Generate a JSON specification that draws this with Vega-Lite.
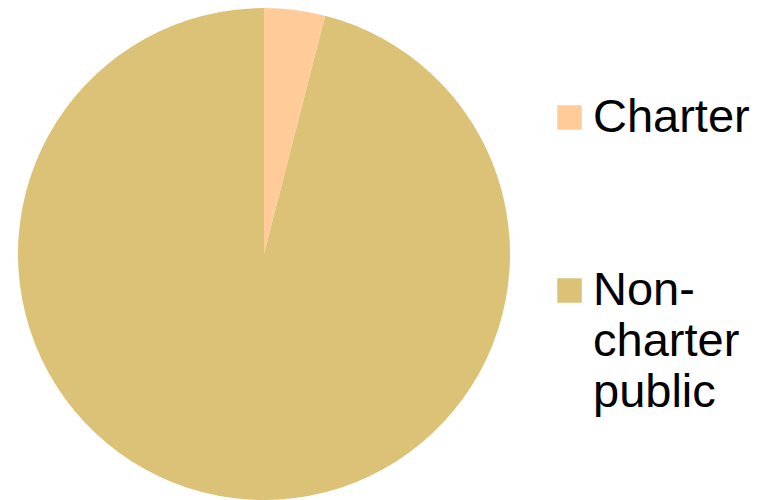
{
  "$schema": "https://vega.github.io/schema/vega-lite/v6.json",
  "width": 492,
  "height": 492,
  "padding": {"left": 18, "top": 8, "right": 251, "bottom": 0},
  "autosize": {"type": "none"},
  "background": "white",
  "data": {"values": [
    {"type": "Charter", "share": 4},
    {"type": "Non-charter public", "share": 96}
  ]},
  "mark": {"type": "arc", "stroke": null},
  "encoding": {
    "theta": {"field": "share", "type": "quantitative", "stack": true},
    "order": {"field": "share", "type": "quantitative", "sort": "ascending"},
    "color": {
      "field": "type", "type": "nominal",
      "scale": {"domain": ["Charter", "Non-charter public"], "range": ["#FFCB99", "#DCC276"]},
      "legend": {
        "title": null,
        "orient": "none",
        "legendX": 528,
        "legendY": 86,
        "symbolType": "square",
        "symbolSize": 600,
        "symbolStrokeWidth": 0,
        "labelFont": "Liberation Sans",
        "labelFontSize": 47,
        "labelLineHeight": 51,
        "labelColor": "black",
        "labelLimit": 300,
        "labelOffset": 0,
        "rowPadding": 125,
        "labelBaseline": "middle",
        "labelExpr": "datum.label == 'Non-charter public' ? ['Non-', 'charter', 'public'] : datum.label"
      }
    }
  },
  "config": {"view": {"stroke": null}, "style": {"guide-label": {"lineHeight": 51}}}
}
